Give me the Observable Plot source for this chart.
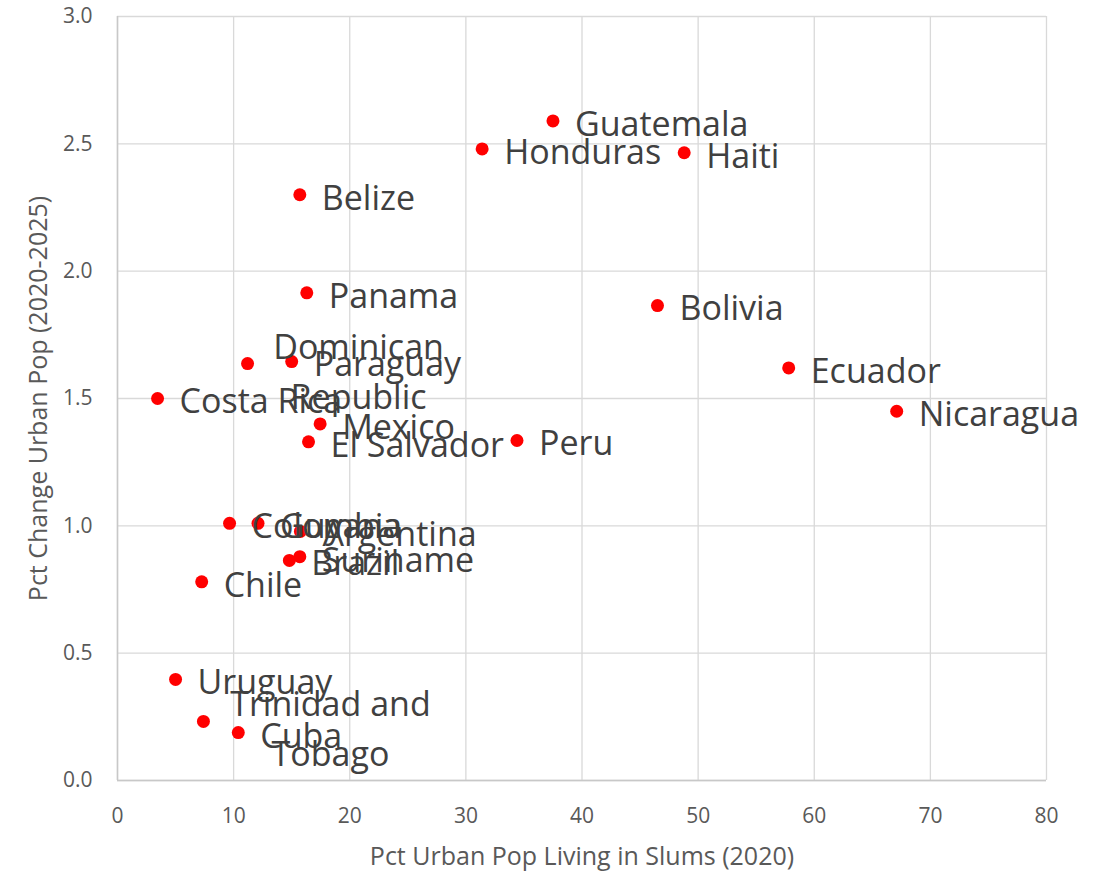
<!DOCTYPE html>
<html>
<head>
<meta charset="utf-8">
<script src="https://cdn.jsdelivr.net/npm/d3@7"></script>
<script src="https://cdn.jsdelivr.net/npm/@observablehq/plot@0.6"></script>
<style>
  html, body { margin: 0; padding: 0; background: #ffffff; }
  #chart svg { display: block; }
</style>
</head>
<body>
<div id="chart"></div>
<script>
const countries = ["Guatemala", "Honduras", "Haiti", "Belize", "Panama", "Bolivia", "Ecuador", "Nicaragua",
  "Costa Rica", "Dominican\nRepublic", "Paraguay", "Mexico", "El Salvador", "Peru", "Colombia", "Guyana",
  "Argentina", "Suriname", "Brazil", "Chile", "Uruguay", "Trinidad and\nTobago", "Cuba"];
const slumsPct = [37.5, 31.4, 48.8, 15.7, 16.3, 46.5, 57.8, 67.1,
  3.45, 11.2, 15.0, 17.45, 16.45, 34.4, 9.65, 12.1,
  15.75, 15.7, 14.8, 7.25, 5.0, 7.4, 10.4];
const urbanChange = [2.59, 2.48, 2.465, 2.30, 1.915, 1.865, 1.62, 1.45,
  1.50, 1.637, 1.645, 1.40, 1.33, 1.335, 1.01, 1.01,
  0.978, 0.879, 0.864, 0.78, 0.397, 0.232, 0.188];
const xTicks = [0, 10, 20, 30, 40, 50, 60, 70, 80];
const yTicks = [0, 0.5, 1.0, 1.5, 2.0, 2.5, 3.0];

const data = countries.map((c, i) => ({country: c, x: slumsPct[i], y: urbanChange[i]}));
const single = data.filter(d => !d.country.includes("\n"));
const multi = data.filter(d => d.country.includes("\n"));

const font = "'Open Sans', 'Noto Sans', sans-serif";

const chart = Plot.plot({
  width: 1105,
  height: 872,
  marginLeft: 117,
  marginRight: 59,
  marginTop: 16,
  marginBottom: 92,
  style: {fontFamily: font, background: "#ffffff"},
  x: {domain: [0, 80], ticks: xTicks},
  y: {domain: [0, 3], ticks: yTicks},
  marks: [
    Plot.gridX(xTicks, {stroke: "#d9d9d9", strokeOpacity: 1, strokeWidth: 1.3}),
    Plot.gridY(yTicks, {stroke: "#d9d9d9", strokeOpacity: 1, strokeWidth: 1.3}),
    Plot.ruleX([0], {stroke: "#c8c8c8", strokeWidth: 1.5}),
    Plot.ruleY([0], {stroke: "#c8c8c8", strokeWidth: 1.5}),
    Plot.axisX(xTicks, {tickSize: 0, tickPadding: 28, fontSize: 21, fill: "#595959",
      label: "Pct Urban Pop Living in Slums (2020)", labelAnchor: "center", labelArrow: "none", labelOffset: 84}),
    Plot.axisY(yTicks, {tickSize: 0, tickPadding: 25, fontSize: 21, fill: "#595959", tickFormat: d3.format(".1f"),
      label: "Pct Change Urban Pop (2020-2025)", labelAnchor: "center", labelArrow: "none", labelOffset: 88}),
    Plot.dot(data, {x: "x", y: "y", r: 6.5, fill: "#ff0000", stroke: "none"}),
    Plot.text(single, {x: "x", y: "y", text: "country", textAnchor: "start", dx: 22, dy: 4,
      fontSize: 34, fill: "#404040"}),
    Plot.text(multi.filter(d => d.country.startsWith("Dominican")), {x: "x", y: "y", text: "country", textAnchor: "middle",
      dx: 111, dy: 4, fontSize: 34, lineHeight: 1.47, fill: "#404040"}),
    Plot.text(multi.filter(d => d.country.startsWith("Trinidad")), {x: "x", y: "y", text: "country", textAnchor: "middle",
      dx: 127, dy: 4, fontSize: 34, lineHeight: 1.47, fill: "#404040"})
  ]
});
document.getElementById("chart").appendChild(chart);
chart.querySelectorAll("g[aria-label='x-axis label'], g[aria-label='y-axis label']").forEach(g => {
  g.setAttribute("font-size", 25);
  g.setAttribute("fill", "#595959");
  g.querySelectorAll("text").forEach(t => t.setAttribute("font-size", 25));
});
</script>
</body>
</html>
